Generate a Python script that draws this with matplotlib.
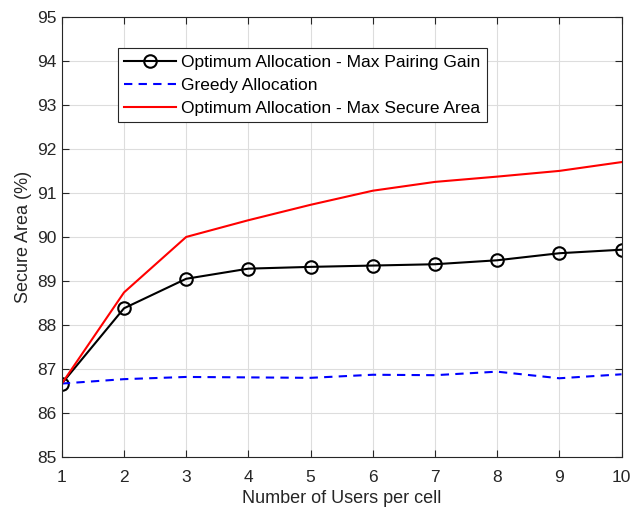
import matplotlib
matplotlib.use("Agg")
import matplotlib.pyplot as plt

plt.rcParams['font.family'] = ['Liberation Sans', 'DejaVu Sans']

users = [1, 2, 3, 4, 5, 6, 7, 8, 9, 10]
pairing_gain = [86.67, 88.38, 89.05, 89.28, 89.32, 89.35, 89.38, 89.47, 89.63, 89.71]
greedy = [86.67, 86.77, 86.82, 86.81, 86.80, 86.87, 86.86, 86.94, 86.79, 86.88]
secure_area = [86.67, 88.74, 90.00, 90.38, 90.73, 91.05, 91.25, 91.37, 91.50, 91.70]

fig = plt.figure(figsize=(6.31, 5.09), dpi=100)
ax = fig.add_axes([0.098, 0.102, 0.887, 0.865])

ax.plot(users, pairing_gain, color='black', linewidth=1.5, marker='o', markersize=9,
        markerfacecolor='none', markeredgewidth=1.5, label='Optimum Allocation - Max Pairing Gain')
ax.plot(users, greedy, color='#0000ff', linewidth=1.5, linestyle=(0, (4, 3)),
        label='Greedy Allocation')
ax.plot(users, secure_area, color='#ff0000', linewidth=1.5,
        label='Optimum Allocation - Max Secure Area')

ax.set_xlim(1, 10)
ax.set_ylim(85, 95)
ax.set_xticks(users)
ax.set_yticks(range(85, 96))
ax.grid(True, color='#dddddd', linewidth=0.8)
ax.set_axisbelow(True)
ax.tick_params(direction='in', top=True, right=True, labelsize=12.5, colors='#262626', length=5)
ax.tick_params(axis='x', pad=9)
for s in ax.spines.values():
    s.set_color('#262626')
    s.set_linewidth(0.8)

ax.set_xlabel('Number of Users per cell', fontsize=13, color='#262626')
ax.set_ylabel('Secure Area (%)', fontsize=13, color='#262626')

leg = ax.legend(loc='upper left', bbox_to_anchor=(0.1, 0.928), fontsize=12.5,
                frameon=True, fancybox=False, edgecolor='#262626', framealpha=1,
                handlelength=3.0, borderpad=0.35, labelspacing=0.45, handletextpad=0.3,
                borderaxespad=0)
leg.get_frame().set_linewidth(0.8)

fig.savefig('out.png', dpi=100)
